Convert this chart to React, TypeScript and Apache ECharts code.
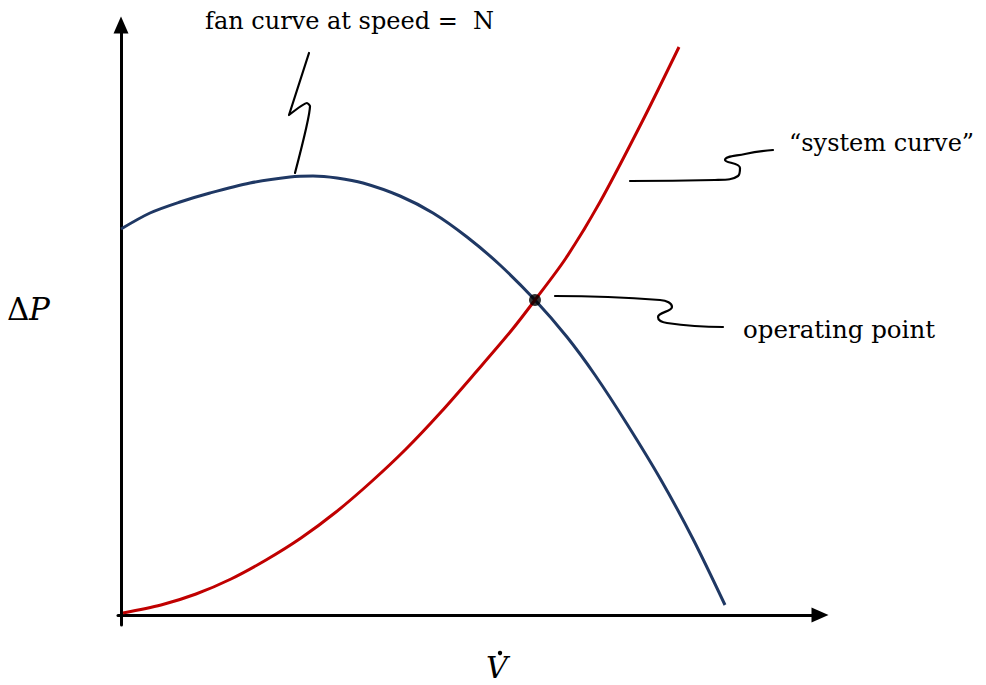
import React, { useEffect, useRef } from "react";
import * as echarts from "echarts";

// Fan curve (flow, pressure rise) at speed N
const fanFlow = [0, 29, 59, 89, 129, 169, 192, 216, 242, 279, 312, 346, 379, 414, 446, 474, 506, 540, 572, 604];
const fanPressure = [386, 402, 413, 422, 432, 438, 439, 437, 432, 419, 402, 378, 350, 315, 278, 240, 191, 135, 76, 10];

// System curve
const sysFlow = [2, 40, 75, 110, 145, 180, 215, 250, 285, 320, 355, 390, 414, 445, 479, 522, 558];
const sysPressure = [2, 10, 21, 36, 55, 77, 103, 133, 166, 203, 243, 284, 315, 357, 413, 495, 568];

// Operating point
const opPoint = [414, 315];

// Leader lines (annotation squiggles)
const fanLeaderX = [174, 189, 186, 168, 188];
const fanLeaderY = [442, 509, 512, 500, 562];
const sysLeaderX = [509, 594, 617, 619, 604, 624, 652];
const sysLeaderY = [434, 435, 439, 447, 455, 461, 465];
const opLeaderX = [434, 539, 551, 537, 546, 602];
const opLeaderY = [319, 315, 308, 298, 292, 288];

const labels = {
  fan: "fan curve at speed =  N",
  sys: "\u201Csystem curve\u201D",
  op: "operating point",
};

const zip = (xs: number[], ys: number[]) => xs.map((x, i) => [x, ys[i]]);

export default function App() {
  const ref = useRef<HTMLDivElement>(null);
  useEffect(() => {
    if (!ref.current) return;
    const chart = echarts.init(ref.current, null, { renderer: "svg" });
    const font = "'DejaVu Serif', serif";
    const axisLine = {
      show: true,
      onZero: true,
      symbol: ["none", "triangle"],
      symbolSize: [15, 17],
      lineStyle: { color: "#000", width: 3 },
    };
    chart.setOption({
      animation: false,
      backgroundColor: "#ffffff",
      grid: { left: 118, top: 25, width: 702, height: 600 },
      xAxis: {
        type: "value",
        min: -3,
        max: 699,
        axisLine,
        axisTick: { show: false },
        axisLabel: { show: false },
        splitLine: { show: false },
      },
      yAxis: {
        type: "value",
        min: -10,
        max: 590,
        axisLine,
        axisTick: { show: false },
        axisLabel: { show: false },
        splitLine: { show: false },
      },
      series: [
        {
          type: "line",
          data: zip(fanFlow, fanPressure),
          smooth: 0.3,
          showSymbol: false,
          lineStyle: { color: "#1F3864", width: 3 },
        },
        {
          type: "line",
          data: zip(sysFlow, sysPressure),
          smooth: 0.3,
          showSymbol: false,
          lineStyle: { color: "#C00000", width: 3 },
        },
        {
          type: "line",
          data: zip(fanLeaderX, fanLeaderY),
          smooth: 0.15,
          showSymbol: false,
          lineStyle: { color: "#000", width: 2.2, cap: "round", join: "round" },
        },
        {
          type: "line",
          data: zip(sysLeaderX, sysLeaderY),
          smooth: 0.5,
          showSymbol: false,
          lineStyle: { color: "#000", width: 2.2, cap: "round" },
        },
        {
          type: "line",
          data: zip(opLeaderX, opLeaderY),
          smooth: 0.5,
          showSymbol: false,
          lineStyle: { color: "#000", width: 2.2, cap: "round" },
        },
        {
          type: "scatter",
          data: [opPoint],
          symbolSize: 12,
          itemStyle: { color: "#000" },
          z: 10,
        },
      ],
      graphic: [
        {
          type: "text",
          left: 205,
          top: 9,
          style: { text: labels.fan, font: `24px ${font}`, fill: "#000" },
        },
        {
          type: "text",
          left: 789,
          top: 131,
          style: { text: labels.sys, font: `24px ${font}`, fill: "#000" },
        },
        {
          type: "text",
          left: 743,
          top: 317,
          style: { text: labels.op, font: `24.5px ${font}`, fill: "#000" },
        },
        {
          type: "text",
          left: 7,
          top: 293,
          style: { text: "\u0394", font: `31px ${font}`, fill: "#000" },
        },
        {
          type: "text",
          left: 29,
          top: 293,
          style: { text: "P", font: `italic 31px ${font}`, fill: "#000" },
        },
        {
          type: "text",
          left: 486,
          top: 652,
          style: { text: "V", font: `italic 30px ${font}`, fill: "#000" },
        },
        {
          type: "circle",
          shape: { cx: 500, cy: 653, r: 2.2 },
          style: { fill: "#000" },
        },
      ],
    });
    return () => chart.dispose();
  }, []);
  return (
    <div
      ref={ref}
      style={{ position: "absolute", left: 0, top: 0, width: 986, height: 685 }}
    />
  );
}
